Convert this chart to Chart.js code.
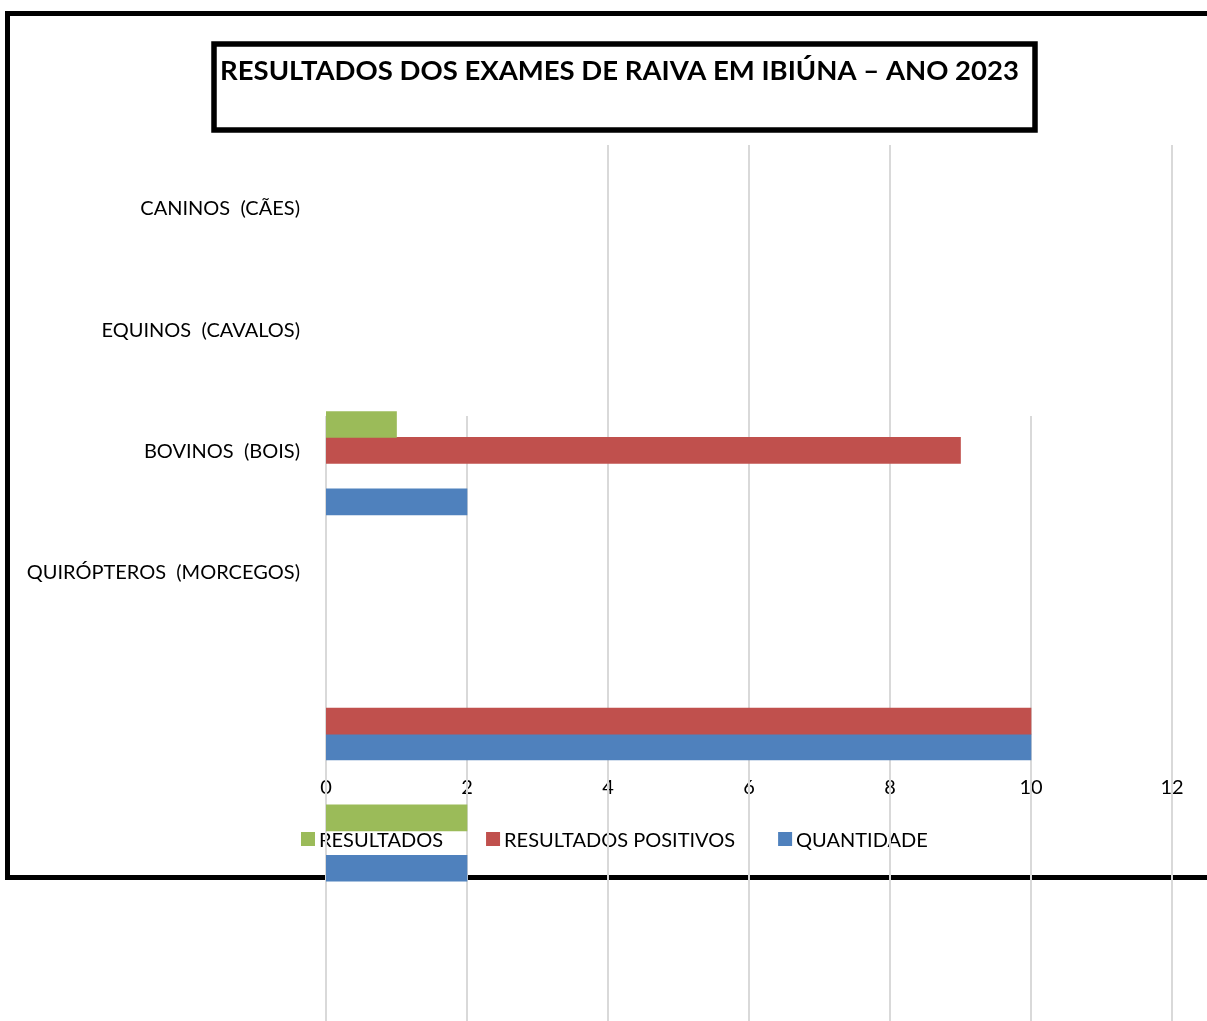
<!DOCTYPE html>
<html>
<head>
<meta charset="utf-8">
<title>Resultados dos exames de raiva em Ibiúna – 2023</title>
<script src="https://cdn.jsdelivr.net/npm/chart.js@4.4.0/dist/chart.umd.min.js"></script>
<style>
  html, body { margin: 0; padding: 0; background: #fff; }
  #wrap { position: relative; width: 1207px; height: 1021px; }
</style>
</head>
<body>
<div id="wrap"><canvas id="chart-raiva"></canvas></div>
<script>
const title = 'RESULTADOS DOS EXAMES DE RAIVA EM IBIÚNA – ANO 2023';
const categories = ['CANINOS  (CÃES)', 'EQUINOS  (CAVALOS)', 'BOVINOS  (BOIS)', 'QUIRÓPTEROS  (MORCEGOS)'];
const seriesNames = ['RESULTADOS', 'RESULTADOS POSITIVOS', 'QUANTIDADE'];

// values per series, and the bar row each one ended up on in the original (it is shifted about)
const resultados = [1, 2];
const resultadosRows = [0, 15.25];
const positivos = [9, 10];
const positivosRows = [1, 11.5];
const quantidade = [2, 10, 2];
const quantidadeRows = [3, 12.5, 17.2];

const colors = ['#9BBB59', '#C0504D', '#4F81BD'];
const font = 'Lato, "Open Sans", sans-serif';

const toPoints = (values, rows) => values.map((v, i) => ({ x: v, y: rows[i] }));

// outer frame + boxed title, behind everything
const frames = {
    id: 'frames',
    beforeDraw(chart) {
        const ctx = chart.ctx;
        ctx.save();
        ctx.fillStyle = '#fff';
        ctx.fillRect(0, 0, chart.width, chart.height);
        ctx.strokeStyle = '#000';
        ctx.lineWidth = 5;
        ctx.strokeRect(7.5, 13.5, chart.width + 40, 864);
        ctx.lineWidth = 5.5;
        ctx.strokeRect(214, 44, 821, 86);
        ctx.fillStyle = '#000';
        ctx.font = 'bold 27.5px ' + font;
        ctx.textAlign = 'center';
        ctx.textBaseline = 'alphabetic';
        ctx.fillText(title, 619.5, 80);
        ctx.restore();
    }
};

// legend row, laid out like the excel one (small gap between swatch and text)
const legendRow = {
    id: 'legendRow',
    beforeDatasetsDraw(chart, args, opts) {
        const ctx = chart.ctx;
        ctx.save();
        ctx.font = opts.size + 'px ' + font;
        ctx.textBaseline = 'middle';
        let x = opts.x;
        chart.data.datasets.forEach(ds => {
            ctx.fillStyle = ds.backgroundColor;
            ctx.fillRect(x, opts.y - 7, 14, 14);
            x += 18;
            ctx.fillStyle = '#000';
            ctx.fillText(ds.label, x, opts.y + 2);
            x += ctx.measureText(ds.label).width + opts.gap;
        });
        ctx.restore();
    }
};

// vertical gridlines, drawn over the tick labels but under the bars
const gridLines = {
    id: 'gridLines',
    beforeDatasetsDraw(chart, args, opts) {
        const { ctx, chartArea, scales: { x } } = chart;
        ctx.save();
        ctx.strokeStyle = opts.color;
        ctx.lineWidth = opts.width;
        x.ticks.forEach(t => {
            const px = Math.round(x.getPixelForValue(t.value));
            const top = opts.short.includes(t.value) ? opts.shortTop : chartArea.top;
            ctx.beginPath();
            ctx.moveTo(px, top);
            ctx.lineTo(px, chart.height);
            ctx.stroke();
        });
        ctx.restore();
    }
};

new Chart(document.getElementById('chart-raiva'), {
    type: 'bar',
    data: {
        datasets: [
            { label: seriesNames[0], data: toPoints(resultados, resultadosRows), backgroundColor: colors[0], yAxisID: 'rows' },
            { label: seriesNames[1], data: toPoints(positivos, positivosRows), backgroundColor: colors[1], yAxisID: 'rows' },
            { label: seriesNames[2], data: toPoints(quantidade, quantidadeRows), backgroundColor: colors[2], yAxisID: 'rows' }
        ]
    },
    options: {
        indexAxis: 'y',
        responsive: true,
        maintainAspectRatio: false,
        animation: false,
        layout: { padding: { top: 145, right: 35, bottom: 0, left: 0 } },
        datasets: { bar: { grouped: false, barThickness: 26, borderWidth: 0 } },
        scales: {
            x: {
                type: 'linear',
                min: 0,
                max: 12,
                position: { y: 4.668 },
                grid: { display: false, drawTicks: false },
                border: { display: false },
                ticks: { stepSize: 2, padding: 0, color: '#000', font: { family: font, size: 20 } }
            },
            y: {
                type: 'linear',
                reverse: true,
                offset: false,
                min: -0.5275,
                max: 6.6925,
                afterBuildTicks: s => { s.ticks = categories.map((_, i) => ({ value: i })); },
                afterFit: s => {
                    s.width = 326;
                    s.paddingTop = 0;
                    s.paddingBottom = 0;
                },
                grid: { display: false, drawTicks: false },
                border: { display: false },
                ticks: {
                    padding: 26,
                    color: '#000',
                    font: { family: font, size: 20 },
                    callback: v => categories[v]
                }
            },
            rows: {
                axis: 'y',
                type: 'linear',
                position: 'left',
                reverse: true,
                offset: false,
                display: false,
                min: -10.833,
                max: 23.12,
                ticks: { stepSize: 1, includeBounds: false }
            }
        },
        plugins: {
            legend: { display: false },
            tooltip: { enabled: false },
            legendRow: { x: 301, y: 839, size: 20, gap: 43 },
            gridLines: { color: '#d9d9d9', width: 2, short: [0, 2, 10], shortTop: 416 }
        }
    },
    plugins: [frames, legendRow, gridLines]
});
</script>
</body>
</html>
